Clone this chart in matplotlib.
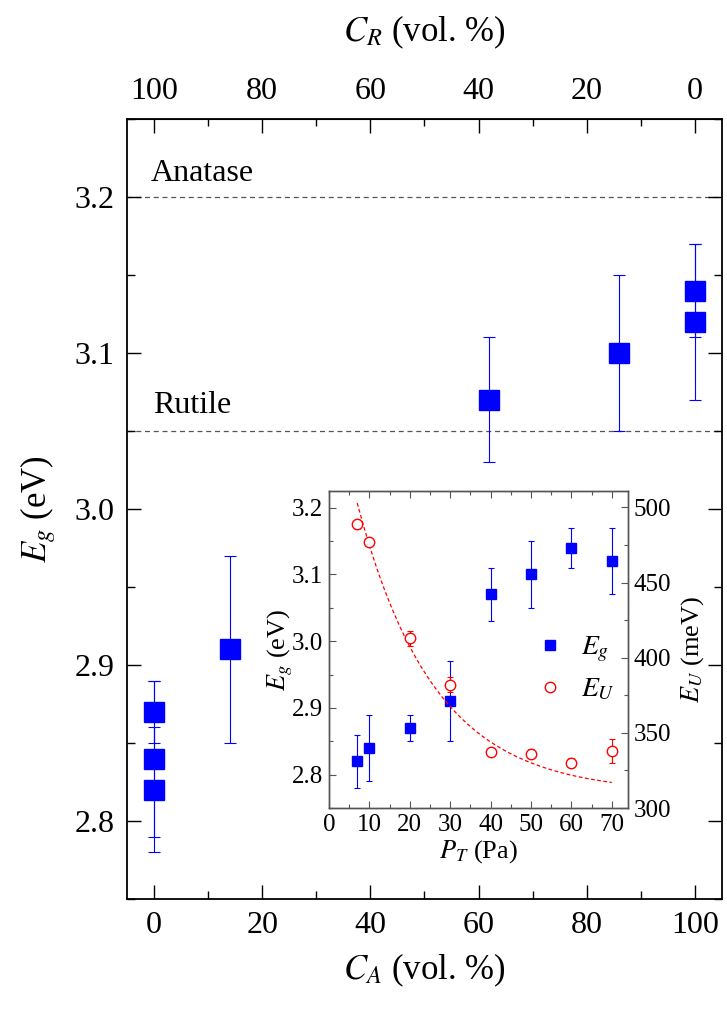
import numpy as np
import matplotlib
matplotlib.use("Agg")
import matplotlib.pyplot as plt
from matplotlib.lines import Line2D
from matplotlib.ticker import MultipleLocator, FixedLocator

plt.rcParams['font.family'] = ['Liberation Serif', 'DejaVu Serif']
plt.rcParams['mathtext.fontset'] = 'stix'

# band gap vs anatase fraction
c_anatase = [0, 0, 0, 14, 62, 86, 100, 100]
eg_main = [2.87, 2.84, 2.82, 2.91, 3.07, 3.10, 3.14, 3.12]
eg_main_err = [0.02, 0.05, 0.04, 0.06, 0.04, 0.05, 0.03, 0.05]

# reference gaps
eg_anatase = 3.20
eg_rutile = 3.05

# inset: vs total pressure
p_total = [7, 10, 20, 30, 40, 50, 60, 70]
eg_inset = [2.82, 2.84, 2.87, 2.91, 3.07, 3.10, 3.14, 3.12]
eg_inset_err = [0.04, 0.05, 0.02, 0.06, 0.04, 0.05, 0.03, 0.05]
eu = [489, 477, 413, 382, 337, 336, 330, 338]
eu_err = [3, 1, 5, 5, 2, 3, 3, 8]

# exponential decay fit of E_U: y0 + A*exp(-P/t)
fit_y0, fit_a, fit_t = 310.0, 279.0, 19.0

# rutile fraction ticks on the top axis
cr_ticks = [0, 20, 40, 60, 80, 100]
cr_minor = [10, 30, 50, 70, 90]

BLUE = '#0000ff'
RED = '#ff0000'

fig = plt.figure(figsize=(7.27, 10.15), dpi=100)
ax = fig.add_axes([0.1747, 0.1143, 0.8184, 0.7685])

ax.axhline(eg_anatase, color='#555555', lw=0.9, ls=(0, (4, 3)), zorder=1)
ax.axhline(eg_rutile, color='#555555', lw=0.9, ls=(0, (4, 3)), zorder=1)
ax.text(-0.6, eg_anatase + 0.0105, 'Anatase', fontsize=23, va='baseline')
ax.text(-0.2, eg_rutile + 0.0115, 'Rutile', fontsize=23, va='baseline')

ax.errorbar(c_anatase, eg_main, yerr=eg_main_err, fmt='none', ecolor=BLUE,
            elinewidth=0.8, capsize=4, capthick=0.8, zorder=2)
ax.plot(c_anatase, eg_main, 's', color=BLUE, ms=14, mec=BLUE, zorder=3)

ax.set_xlim(-5, 105)
ax.set_ylim(2.75, 3.25)
ax.xaxis.set_major_locator(MultipleLocator(20))
ax.xaxis.set_minor_locator(MultipleLocator(10))
ax.yaxis.set_major_locator(MultipleLocator(0.1))
ax.yaxis.set_minor_locator(MultipleLocator(0.05))
ax.yaxis.set_major_formatter(lambda v, pos: f'{v:.1f}')
ax.tick_params(which='both', direction='in', width=1.0, labelsize=23,
               right=True, pad=9)
ax.tick_params(which='major', length=10)
ax.tick_params(which='minor', length=6)
for sp in ax.spines.values():
    sp.set_linewidth(1.3)

ax.set_xlabel(r'$C_A$ (vol. %)', fontsize=25, labelpad=8)
ax.set_ylabel(r'$E_g$ (eV)', fontsize=25, labelpad=12)

top = ax.secondary_xaxis('top', functions=(lambda x: 100 - x, lambda x: 100 - x))
top.xaxis.set_major_locator(FixedLocator(cr_ticks))
top.xaxis.set_minor_locator(FixedLocator(cr_minor))
top.tick_params(which='both', direction='in', width=1.0, labelsize=23, pad=9)
top.tick_params(which='major', length=10)
top.tick_params(which='minor', length=5)
top.set_xlabel(r'$C_R$ (vol. %)', fontsize=25, labelpad=26)

# inset
axin = fig.add_axes([0.4525, 0.2039, 0.4113, 0.3124])
axin.set_facecolor('white')
axin.errorbar(p_total, eg_inset, yerr=eg_inset_err, fmt='none', ecolor=BLUE,
              elinewidth=0.8, capsize=2.2, capthick=0.8, zorder=2)
axin.plot(p_total, eg_inset, 's', color=BLUE, ms=7, zorder=3)
axin.set_xlim(0, 74)
axin.set_ylim(2.75, 3.225)
axin.xaxis.set_major_locator(MultipleLocator(10))
axin.xaxis.set_minor_locator(MultipleLocator(5))
axin.yaxis.set_major_locator(MultipleLocator(0.1))
axin.yaxis.set_minor_locator(MultipleLocator(0.05))
axin.yaxis.set_major_formatter(lambda v, pos: f'{v:.1f}')
axin.tick_params(which='both', direction='in', width=0.8, labelsize=18,
                 top=True, pad=4, color='#555555')
axin.tick_params(which='major', length=5)
axin.tick_params(which='minor', length=3)
axin.set_xlabel(r'$P_T$ (Pa)', fontsize=19, labelpad=2)
axin.set_ylabel(r'$E_g$ (eV)', fontsize=19, labelpad=-2)

axr = axin.twinx()
p_fit = np.linspace(min(p_total), max(p_total), 200)
axr.plot(p_fit, fit_y0 + fit_a * np.exp(-p_fit / fit_t), color=RED, lw=0.9,
         ls=(0, (3, 2)), zorder=1)
axr.errorbar(p_total, eu, yerr=eu_err, fmt='none', ecolor=RED,
             elinewidth=0.8, capsize=2.2, capthick=0.8, zorder=2)
axr.plot(p_total, eu, 'o', mfc='white', mec=RED, mew=1.0, ms=7.5, zorder=3)
axr.set_ylim(300, 511)
axr.yaxis.set_major_locator(MultipleLocator(50))
axr.yaxis.set_minor_locator(MultipleLocator(25))
axr.tick_params(which='both', direction='in', width=0.8, labelsize=18,
                pad=4, color='#555555')
axr.tick_params(which='major', length=5)
axr.tick_params(which='minor', length=3)
axr.set_ylabel(r'$E_U$ (meV)', fontsize=19, labelpad=6)
for a in (axin, axr):
    for sp in a.spines.values():
        sp.set_linewidth(1.0)
        sp.set_color('#555555')

handles = [Line2D([], [], ls='none', marker='s', color=BLUE, ms=7),
           Line2D([], [], ls='none', marker='o', mfc='white', mec=RED, mew=1.0, ms=7.5)]
axr.legend(handles, [r'$E_g$', r'$E_U$'], loc='upper left',
           bbox_to_anchor=(0.61, 0.625), frameon=False, fontsize=20,
           handlelength=1.0, handletextpad=0.6, labelspacing=0.45)

fig.savefig('out.png', dpi=100)
